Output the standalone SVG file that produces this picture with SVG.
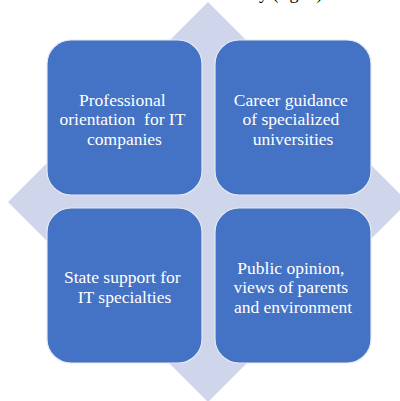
<svg xmlns="http://www.w3.org/2000/svg" width="400" height="401" viewBox="0 0 400 401">
  <style>
    .box { fill: #4472C4; stroke: #E4E9F4; stroke-width: 1.2; }
    .lbl { font-family: "Liberation Serif", "Times New Roman", serif; font-size: 17.5px; fill: #FFFFFF; text-anchor: middle; }
    .pre { white-space: pre; }
    .caption { font-family: "Liberation Serif", "Times New Roman", serif; font-size: 18px; fill: #000000; }
  </style>
  <rect width="400" height="401" fill="#FFFFFF"/>

  <!-- caption line running off the top edge -->
  <text class="caption" x="259" y="-1">y (fig. 1)</text>

  <!-- background diamond -->
  <polygon points="208,2 408,202 208,402 8,202" fill="#CFD5EA"/>

  <g id="node-professional-orientation">
    <rect class="box" x="47" y="40" width="155" height="155" rx="24" ry="24"/>
    <text class="lbl">
      <tspan x="124.5" y="105.5">Professional</tspan>
      <tspan class="pre" x="124.5" y="125">orientation  for IT</tspan>
      <tspan x="124.5" y="144.5">companies</tspan>
    </text>
  </g>

  <g id="node-career-guidance">
    <rect class="box" x="215" y="40" width="156" height="155" rx="24" ry="24"/>
    <text class="lbl">
      <tspan x="293" y="105.5">Career guidance</tspan>
      <tspan x="293" y="125">of specialized</tspan>
      <tspan x="293" y="144.5">universities</tspan>
    </text>
  </g>

  <g id="node-state-support">
    <rect class="box" x="47" y="208" width="155" height="155" rx="24" ry="24"/>
    <text class="lbl">
      <tspan x="124.5" y="283">State support for</tspan>
      <tspan x="124.5" y="302.5">IT specialties</tspan>
    </text>
  </g>

  <g id="node-public-opinion">
    <rect class="box" x="215" y="208" width="156" height="155" rx="24" ry="24"/>
    <text class="lbl">
      <tspan x="293" y="273.5">Public opinion,</tspan>
      <tspan x="293" y="293">views of parents</tspan>
      <tspan x="293" y="312.5">and environment</tspan>
    </text>
  </g>

  <g id="connectors"/>
</svg>
